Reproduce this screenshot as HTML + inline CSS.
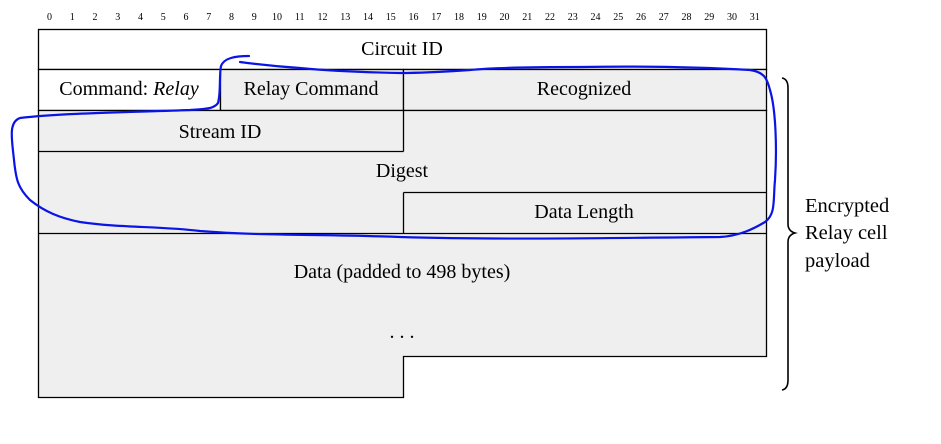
<!DOCTYPE html>
<html><head><meta charset="utf-8"><style>
html,body{margin:0;padding:0;background:#fff;}
svg{display:block;}
text{font-family:"Liberation Serif",serif;fill:#000;}
</style></head><body>
<svg width="941" height="444" viewBox="0 0 941 444" xmlns="http://www.w3.org/2000/svg">
<g font-size="10" text-anchor="middle">
<text x="49.5" y="20">0</text><text x="72.2" y="20">1</text><text x="95" y="20">2</text><text x="117.7" y="20">3</text><text x="140.5" y="20">4</text><text x="163.2" y="20">5</text><text x="186" y="20">6</text><text x="208.7" y="20">7</text><text x="231.5" y="20">8</text><text x="254.2" y="20">9</text><text x="277" y="20">10</text><text x="299.7" y="20">11</text><text x="322.5" y="20">12</text><text x="345.2" y="20">13</text><text x="368" y="20">14</text><text x="390.7" y="20">15</text><text x="413.5" y="20">16</text><text x="436.2" y="20">17</text><text x="459" y="20">18</text><text x="481.7" y="20">19</text><text x="504.5" y="20">20</text><text x="527.2" y="20">21</text><text x="550" y="20">22</text><text x="572.7" y="20">23</text><text x="595.5" y="20">24</text><text x="618.2" y="20">25</text><text x="641" y="20">26</text><text x="663.7" y="20">27</text><text x="686.5" y="20">28</text><text x="709.2" y="20">29</text><text x="732" y="20">30</text><text x="754.7" y="20">31</text>
</g>
<g stroke="#000" stroke-width="1.3">
<rect x="38.5" y="29.5" width="728" height="40" fill="#fff"/>
<rect x="38.5" y="69.5" width="182" height="41" fill="#fff"/>
<rect x="220.5" y="69.5" width="183" height="41" fill="#efefef"/>
<rect x="403.5" y="69.5" width="363" height="41" fill="#efefef"/>
<path d="M38.5 110.5 H766.5 V356.5 H403.5 V397.5 H38.5 Z" fill="#efefef"/>
<line x1="38.5" y1="151.5" x2="403.5" y2="151.5"/>
<line x1="403.5" y1="110.5" x2="403.5" y2="151.5"/>
<line x1="403.5" y1="192.5" x2="766.5" y2="192.5"/>
<line x1="403.5" y1="192.5" x2="403.5" y2="233.5"/>
<line x1="38.5" y1="233.5" x2="766.5" y2="233.5"/>
</g>
<g font-size="20" text-anchor="middle">
<text x="402" y="55">Circuit ID</text>
<text x="129" y="95">Command: <tspan font-style="italic">Relay</tspan></text>
<text x="311" y="95">Relay Command</text>
<text x="584" y="95">Recognized</text>
<text x="220" y="138">Stream ID</text>
<text x="402" y="177">Digest</text>
<text x="584" y="218">Data Length</text>
<text x="402" y="278">Data (padded to 498 bytes)</text>
<text x="402" y="338">. . .</text>
</g>
<g font-size="20.5">
<text x="805" y="212">Encrypted</text>
<text x="805" y="239">Relay cell</text>
<text x="805" y="267">payload</text>
</g>
<path d="M782 78 Q788 79 788 88 V224 Q788 231 795 233 Q788 235 788 242 V380 Q788 389 782 390" fill="none" stroke="#000" stroke-width="1.6"/>
<path d="M249 56 C235 56 224 58 221 66 C219 76 221 92 218 103 C214 109 205 109 190 110 C140 112 60 113 20 118 C8 122 12 140 14 160 C16 180 18 188 30 200 C45 212 60 218 80 222 C120 228 160 226 200 231 C260 236 320 234 400 237 C500 240 600 238 720 237 C740 236 755 228 765 222 C776 214 773 200 775 180 C777 150 776 110 770 90 C767 78 764 72 750 70 C700 67 640 66 580 67 C530 67 490 68 470 70 C440 72 420 73 400 73 C350 72 320 70 300 68 C270 66 255 64 240 62" fill="none" stroke="#0a14e6" stroke-width="2.2" stroke-linecap="round" stroke-linejoin="round"/>
</svg>
</body></html>
